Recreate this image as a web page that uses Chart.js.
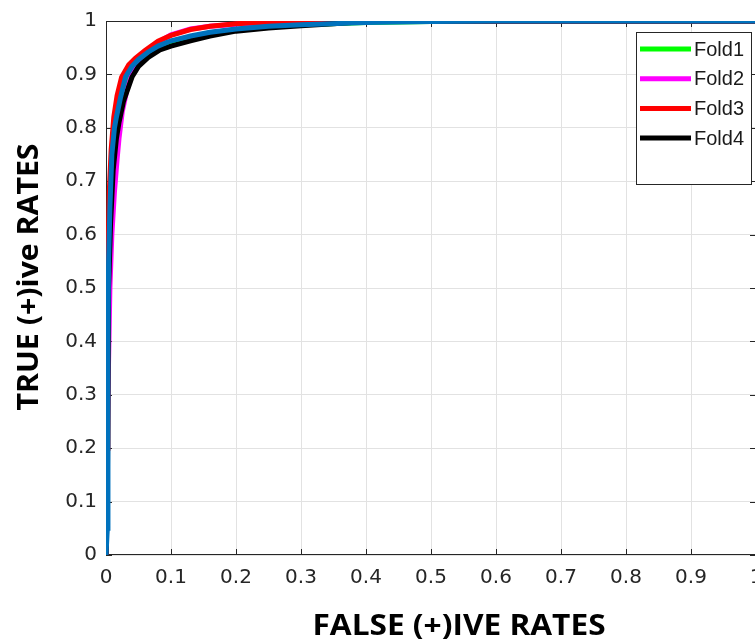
<!DOCTYPE html>
<html>
<head>
<meta charset="utf-8">
<script src="https://cdn.jsdelivr.net/npm/chart.js@4.4.1/dist/chart.umd.min.js"></script>
<style>
  html, body { margin: 0; padding: 0; background: #fff; overflow: hidden; width: 755px; height: 642px; }
  #wrap { width: 800px; height: 642px; }
</style>
</head>
<body>
<div id="wrap"><canvas id="c" width="800" height="642"></canvas></div>
<script>
// ---- Data ----
const seriesLabels = ['Fold1', 'Fold2', 'Fold3', 'Fold4', 'Fold5'];
const seriesColors = ['#00ff00', '#ff00ff', '#ff0000', '#000000', '#0072bd'];

const fold1_fpr = [0, 0.002, 0.004, 0.007, 0.010, 0.015, 0.020, 0.028, 0.038, 0.050, 0.065, 0.080, 0.100, 0.130, 0.160, 0.200, 0.250, 0.300, 0.400, 0.500, 0.600, 1.0];
const fold1_tpr = [0, 0.30, 0.55, 0.67, 0.74, 0.80, 0.84, 0.88, 0.905, 0.922, 0.938, 0.950, 0.960, 0.970, 0.978, 0.984, 0.989, 0.993, 0.997, 0.999, 1.0, 1.0];

const fold2_fpr = [0, 0.003, 0.006, 0.009, 0.013, 0.017, 0.020, 0.025, 0.032, 0.040, 0.050, 0.065, 0.080, 0.100, 0.130, 0.160, 0.200, 0.250, 0.300, 0.350, 1.0];
const fold2_tpr = [0, 0.30, 0.50, 0.60, 0.68, 0.74, 0.78, 0.83, 0.87, 0.90, 0.92, 0.942, 0.960, 0.974, 0.985, 0.990, 0.994, 0.997, 0.999, 1.0, 1.0];

const fold3_fpr = [0, 0.002, 0.003, 0.005, 0.008, 0.012, 0.017, 0.024, 0.035, 0.045, 0.060, 0.080, 0.100, 0.130, 0.160, 0.200, 0.250, 0.300, 1.0];
const fold3_tpr = [0, 0.20, 0.55, 0.68, 0.76, 0.82, 0.86, 0.895, 0.918, 0.930, 0.945, 0.962, 0.973, 0.984, 0.990, 0.995, 0.998, 1.0, 1.0];

const fold4_fpr = [0, 0.002, 0.004, 0.007, 0.011, 0.016, 0.020, 0.027, 0.040, 0.050, 0.065, 0.083, 0.100, 0.130, 0.160, 0.200, 0.250, 0.300, 0.350, 0.400, 0.450, 1.0];
const fold4_tpr = [0, 0.10, 0.50, 0.62, 0.72, 0.78, 0.81, 0.85, 0.895, 0.915, 0.932, 0.946, 0.953, 0.963, 0.972, 0.981, 0.987, 0.991, 0.995, 0.999, 1.0, 1.0];

const fold5_fpr = [0, 0.002, 0.003, 0.004, 0.006, 0.009, 0.013, 0.016, 0.022, 0.030, 0.040, 0.050, 0.065, 0.080, 0.100, 0.130, 0.160, 0.200, 0.250, 0.300, 0.400, 0.500, 0.600, 1.0];
const fold5_tpr = [0, 0.05, 0.40, 0.55, 0.65, 0.75, 0.80, 0.82, 0.855, 0.895, 0.915, 0.928, 0.942, 0.953, 0.963, 0.972, 0.979, 0.985, 0.990, 0.993, 0.997, 0.999, 1.0, 1.0];

const xTickLabels = ['0', '0.1', '0.2', '0.3', '0.4', '0.5', '0.6', '0.7', '0.8', '0.9', '1'];
const yTickLabels = ['0', '0.1', '0.2', '0.3', '0.4', '0.5', '0.6', '0.7', '0.8', '0.9', '1'];
const xTitle = 'FALSE (+)IVE RATES';
const yTitle = 'TRUE (+)ive RATES';

// ---- Build datasets ----
const allFpr = [fold1_fpr, fold2_fpr, fold3_fpr, fold4_fpr, fold5_fpr];
const allTpr = [fold1_tpr, fold2_tpr, fold3_tpr, fold4_tpr, fold5_tpr];
const datasets = seriesLabels.map((lab, i) => ({
  label: lab,
  data: allFpr[i].map((x, j) => ({ x: x, y: allTpr[i][j] })),
  borderColor: seriesColors[i],
  backgroundColor: seriesColors[i],
  borderWidth: 5,
  pointRadius: 0,
  tension: 0,
  fill: false,
  order: seriesLabels.length - i   // later folds drawn on top
}));

const FRAME = '#262626';
const TICK_FAMILY = '"DejaVu Sans", "Liberation Sans", Arial, sans-serif';

const decor = {
  id: 'decor',
  beforeDatasetsDraw(chart) {
    const ctx = chart.ctx, a = chart.chartArea;
    const xs = chart.scales.x, ys = chart.scales.y;
    ctx.save();
    ctx.strokeStyle = FRAME;
    ctx.lineWidth = 1;
    ctx.strokeRect(a.left + 0.5, a.top + 0.5, a.right - a.left - 1, a.bottom - a.top - 1);
    const tl = 6;
    ctx.beginPath();
    xs.ticks.forEach(t => {
      const px = Math.round(xs.getPixelForValue(t.value)) + 0.5;
      ctx.moveTo(px, a.bottom); ctx.lineTo(px, a.bottom - tl);
      ctx.moveTo(px, a.top); ctx.lineTo(px, a.top + tl);
    });
    ys.ticks.forEach(t => {
      const py = Math.round(ys.getPixelForValue(t.value)) + 0.5;
      ctx.moveTo(a.left, py); ctx.lineTo(a.left + tl, py);
      ctx.moveTo(a.right, py); ctx.lineTo(a.right - tl, py);
    });
    ctx.stroke();
    ctx.restore();
  },
  afterDatasetsDraw(chart) {
    const ctx = chart.ctx;
    ctx.save();
    // legend box
    const bx = 636.5, by = 32.5, bw = 115, bh = 152;
    ctx.fillStyle = '#ffffff';
    ctx.fillRect(bx, by, bw, bh);
    ctx.strokeStyle = FRAME;
    ctx.lineWidth = 1;
    ctx.strokeRect(bx, by, bw, bh);
    ctx.font = '20px "Liberation Sans", Arial, sans-serif';
    ctx.textBaseline = 'middle';
    ctx.textAlign = 'left';
    for (let i = 0; i < 4; i++) {
      const y = 49 + i * 29.7;
      ctx.strokeStyle = seriesColors[i];
      ctx.lineWidth = 5;
      ctx.beginPath();
      ctx.moveTo(640, y); ctx.lineTo(691, y);
      ctx.stroke();
      ctx.fillStyle = '#1a1a1a';
      ctx.fillText(seriesLabels[i], 694, y + 1);
    }
    ctx.restore();
    // axis titles (slightly widened lettering, as in the reference)
    ctx.save();
    ctx.fillStyle = '#000';
    ctx.font = 'bold 28px "Open Sans", Lato, sans-serif';
    ctx.textAlign = 'center';
    ctx.textBaseline = 'alphabetic';
    ctx.translate(459, 635);
    ctx.scale(1.13, 1);
    ctx.fillText(xTitle, 0, 0);
    ctx.restore();
    ctx.save();
    ctx.fillStyle = '#000';
    ctx.font = 'bold 28px "Open Sans", Lato, sans-serif';
    ctx.textAlign = 'center';
    ctx.textBaseline = 'alphabetic';
    ctx.translate(38, 277);
    ctx.rotate(-Math.PI / 2);
    ctx.scale(1.08, 1);
    ctx.fillText(yTitle, 0, 0);
    ctx.restore();
  }
};

new Chart(document.getElementById('c'), {
  type: 'line',
  data: { datasets: datasets },
  options: {
    responsive: false,
    animation: false,
    layout: { padding: { left: 0, top: 20, right: 44, bottom: 0 } },
    plugins: { legend: { display: false }, tooltip: { enabled: false } },
    scales: {
      x: {
        type: 'linear', min: 0, max: 1,
        afterFit: s => { s.height = 87; },
        ticks: { stepSize: 0.1, color: '#262626', font: { family: TICK_FAMILY, size: 20 }, padding: 11, maxRotation: 0,
          callback: (v, i) => xTickLabels[i] },
        grid: { color: '#e2e2e2', lineWidth: 1, drawTicks: false },
        border: { display: false }
      },
      y: {
        type: 'linear', min: 0, max: 1,
        afterFit: s => { s.width = 106; },
        ticks: { stepSize: 0.1, color: '#262626', font: { family: TICK_FAMILY, size: 20 }, padding: 9,
          callback: (v, i) => yTickLabels[i] },
        grid: { color: '#e2e2e2', lineWidth: 1, drawTicks: false },
        border: { display: false }
      }
    }
  },
  plugins: [decor]
});
</script>
</body>
</html>
